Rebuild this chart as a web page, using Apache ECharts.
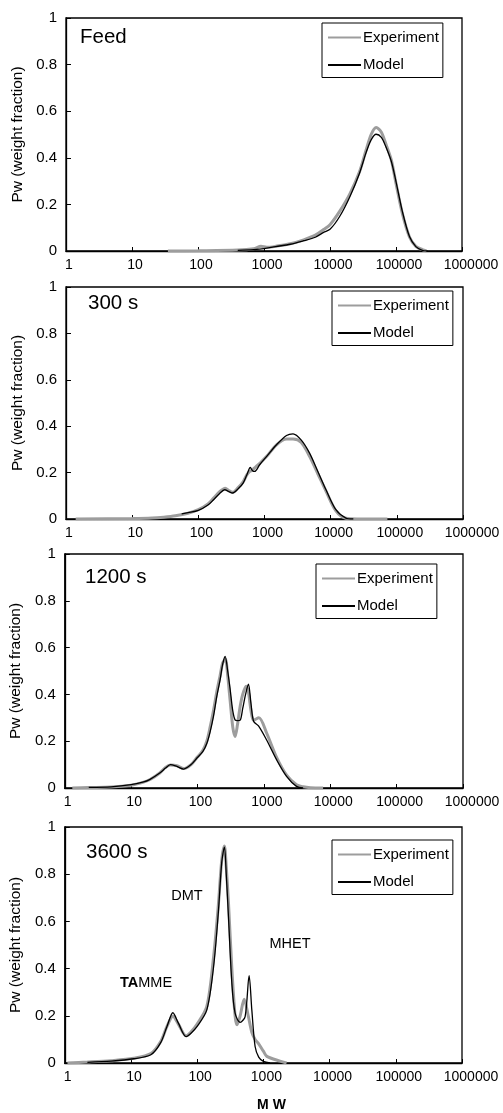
<!DOCTYPE html>
<html><head><meta charset="utf-8">
<script src="https://cdn.jsdelivr.net/npm/echarts@6/dist/echarts.min.js"></script>
<style>html,body{margin:0;padding:0;background:#fff}#c{width:503px;height:1113px}</style>
</head><body><div id="c"></div><script>
// ---- data ----
const xTickLabels = ['1', '10', '100', '1000', '10000', '100000', '1000000'];
const yTickLabels = ['0', '0.2', '0.4', '0.6', '0.8', '1'];
const panelTitles = ['Feed', '300 s', '1200 s', '3600 s'];
const seriesNames = ['Experiment', 'Model'];
const yAxisTitle = 'Pw (weight fraction)';
const xAxisTitle = 'M W';

const mwExpFeed = [35, 100, 400, 700, 900, 1100, 1500, 2500, 4000, 6000, 8000, 10000, 14000, 20000, 28000, 35000, 42000, 50000, 60000, 70000, 85000, 100000, 125000, 160000, 200000, 250000, 290000];
const expFeed = [0, 0.001, 0.004, 0.01, 0.02, 0.016, 0.02, 0.031, 0.048, 0.068, 0.092, 0.113, 0.17, 0.245, 0.34, 0.43, 0.5, 0.53, 0.51, 0.46, 0.39, 0.29, 0.16, 0.06, 0.02, 0.006, 0];
const mwModelFeed = [400, 700, 1000, 1500, 2500, 4000, 6000, 8000, 10000, 14000, 20000, 28000, 35000, 42000, 50000, 60000, 70000, 85000, 100000, 125000, 160000, 200000, 250000, 300000];
const modelFeed = [0.003, 0.006, 0.01, 0.019, 0.029, 0.044, 0.059, 0.08, 0.093, 0.148, 0.233, 0.334, 0.42, 0.477, 0.501, 0.488, 0.448, 0.384, 0.298, 0.169, 0.062, 0.019, 0.003, 0];

const mwExp300 = [1.4, 10, 20, 30, 45, 70, 100, 140, 170, 210, 255, 290, 330, 400, 475, 540, 600, 660, 740, 850, 1080, 1520, 2150, 2700, 3600, 4800, 6400, 8500, 12000, 17000, 25000, 72000];
const exp300 = [0, 0.002, 0.004, 0.008, 0.014, 0.025, 0.04, 0.065, 0.09, 0.118, 0.133, 0.122, 0.115, 0.135, 0.16, 0.19, 0.205, 0.212, 0.225, 0.24, 0.27, 0.32, 0.345, 0.345, 0.33, 0.27, 0.195, 0.12, 0.035, 0.003, 0, 0];
const mwModel300 = [56, 70, 100, 140, 170, 210, 250, 290, 330, 400, 475, 540, 610, 660, 710, 850, 1080, 1520, 2150, 2700, 3600, 4800, 6400, 8500, 12000, 17000, 22000];
const model300 = [0.022, 0.027, 0.037, 0.06, 0.083, 0.11, 0.126, 0.118, 0.112, 0.13, 0.155, 0.19, 0.222, 0.208, 0.205, 0.235, 0.27, 0.32, 0.36, 0.367, 0.34, 0.284, 0.205, 0.126, 0.04, 0.004, 0];

const mwExp1200 = [1.3, 2.3, 5, 10, 15, 19, 27, 33, 39, 49, 62, 80, 98, 120, 138, 155, 174, 195, 219, 240, 263, 285, 311, 340, 368, 400, 440, 480, 540, 585, 640, 700, 840, 1100, 1560, 2200, 3100, 3900, 5000, 7800];
const exp1200 = [0, 0.002, 0.004, 0.012, 0.024, 0.035, 0.064, 0.088, 0.098, 0.095, 0.083, 0.10, 0.13, 0.16, 0.20, 0.26, 0.33, 0.41, 0.48, 0.535, 0.55, 0.48, 0.37, 0.26, 0.22, 0.27, 0.35, 0.40, 0.435, 0.41, 0.33, 0.29, 0.30, 0.235, 0.13, 0.055, 0.014, 0.005, 0.001, 0];
const mwModel1200 = [2.3, 5, 10, 15, 19, 27, 33, 39, 49, 62, 80, 98, 120, 138, 155, 174, 195, 219, 240, 261, 285, 311, 340, 370, 400, 440, 480, 530, 585, 640, 700, 830, 1100, 1560, 2200, 3100, 3900];
const model1200 = [0.003, 0.005, 0.014, 0.025, 0.036, 0.064, 0.085, 0.10, 0.092, 0.081, 0.10, 0.128, 0.155, 0.19, 0.24, 0.306, 0.39, 0.462, 0.53, 0.562, 0.50, 0.42, 0.33, 0.29, 0.288, 0.29, 0.34, 0.40, 0.444, 0.36, 0.285, 0.265, 0.205, 0.12, 0.05, 0.007, 0];

const mwExp3600 = [1.1, 2.2, 5, 11, 20, 28, 35, 43, 52, 68, 80, 100, 140, 177, 209, 235, 258, 275, 297, 334, 374, 400, 446, 513, 594, 669, 750, 830, 1000, 1130, 1780, 2240];
const exp3600 = [0, 0.004, 0.01, 0.02, 0.04, 0.09, 0.155, 0.198, 0.165, 0.115, 0.13, 0.165, 0.24, 0.45, 0.67, 0.86, 0.92, 0.83, 0.68, 0.40, 0.20, 0.162, 0.2, 0.27, 0.197, 0.13, 0.1, 0.085, 0.05, 0.028, 0.008, 0];
const mwModel3600 = [2.2, 5, 11, 20, 28, 35, 43, 52, 68, 80, 100, 140, 177, 209, 235, 258, 275, 297, 334, 374, 446, 530, 609, 669, 750, 850, 1000, 1260];
const model3600 = [0.003, 0.008, 0.018, 0.035, 0.085, 0.155, 0.213, 0.169, 0.112, 0.125, 0.155, 0.225, 0.408, 0.64, 0.85, 0.915, 0.8, 0.62, 0.338, 0.211, 0.172, 0.197, 0.37, 0.225, 0.07, 0.025, 0.007, 0];

const peakLabels = ['DMT', 'MHET', '{b|TA}MME'];

// ---- layout ----
const FONT = '"Liberation Sans", Arial, Helvetica, sans-serif';
const grids = [
  {left: 66, top: 18, width: 396, height: 233},
  {left: 66, top: 287, width: 397, height: 232},
  {left: 64, top: 554, width: 399, height: 234},
  {left: 64, top: 827, width: 398, height: 236}
];
const legendPos = [[322, 23], [332, 291], [316, 564], [332, 840]];
const titlePos = [[80, 37], [88, 303], [85, 577], [86, 852]];
const panelData = [
  [[mwExpFeed, expFeed], [mwModelFeed, modelFeed]],
  [[mwExp300, exp300], [mwModel300, model300]],
  [[mwExp1200, exp1200], [mwModel1200, model1200]],
  [[mwExp3600, exp3600], [mwModel3600, model3600]]
];
const zip = (xs, ys) => xs.map((x, i) => [x, ys[i]]);
const lineStyles = [
  {color: '#9d9d9d', width: 3},
  {color: '#000000', width: 1.3}
];

const option = {
  animation: false,
  backgroundColor: '#fff',
  grid: grids.map(g => Object.assign({show: true, borderColor: '#000', borderWidth: 1.3, backgroundColor: 'transparent'}, g)),
  xAxis: grids.map((g, i) => ({
    type: 'log', logBase: 10, min: 1, max: 1000000, gridIndex: i,
    axisLine: {show: true, lineStyle: {color: '#000', width: 1.3}},
    axisTick: {show: true, inside: true, length: 4, lineStyle: {color: '#000', width: 1}},
    minorTick: {show: false},
    splitLine: {show: false},
    axisLabel: {
      color: '#000', fontSize: 14, fontFamily: FONT, margin: 7,
      formatter: (v, idx) => idx === xTickLabels.length - 1 ? '{r|' + xTickLabels[idx] + '}' : xTickLabels[idx],
      padding: [0, 0, 0, 6],
      rich: {r: {fontSize: 14, fontFamily: FONT, color: '#000', padding: [0, 0, 0, 12]}}
    }
  })),
  yAxis: grids.map((g, i) => ({
    type: 'value', min: 0, max: 1, interval: 0.2, gridIndex: i,
    name: yAxisTitle, nameLocation: 'middle', nameRotate: 90, nameGap: 39,
    nameTextStyle: {fontSize: 15.5, fontFamily: FONT, color: '#000'},
    axisLine: {show: true, lineStyle: {color: '#000', width: 1.3}},
    axisTick: {show: true, inside: true, length: 5, lineStyle: {color: '#000', width: 1}},
    splitLine: {show: false},
    axisLabel: {
      color: '#000', fontSize: 15, fontFamily: FONT, margin: 9,
      formatter: (v) => yTickLabels[Math.round(v / 0.2)]
    }
  })),
  legend: legendPos.map(p => ({
    data: seriesNames.map(n => ({name: n})), orient: 'vertical', left: p[0], top: p[1],
    itemWidth: 33, itemHeight: 14, itemGap: 12.5,
    padding: [7, 4, 5, 5],
    borderColor: '#000', borderWidth: 1, backgroundColor: '#fff',
    itemStyle: {opacity: 0, borderWidth: 0},
    textStyle: {fontSize: 15, fontFamily: FONT, color: '#000', padding: [0, 0, 0, -3]},
    selectedMode: false
  })),
  graphic: [
    ...panelTitles.map((t, i) => ({
      type: 'text', x: titlePos[i][0], y: titlePos[i][1],
      style: {text: t, font: '20.5px ' + FONT, fill: '#000', textVerticalAlign: 'middle'}
    })),
    {type: 'text', x: 187, y: 896, style: {text: peakLabels[0], font: '14.5px ' + FONT, fill: '#000', align: 'center', verticalAlign: 'middle'}},
    {type: 'text', x: 290, y: 944, style: {text: peakLabels[1], font: '14.5px ' + FONT, fill: '#000', align: 'center', verticalAlign: 'middle'}},
    {type: 'text', x: 120, y: 982.5, style: {text: peakLabels[2], fontSize: 14.5, fontFamily: FONT, fill: '#000', verticalAlign: 'middle',
      rich: {b: {fontSize: 14.5, fontFamily: FONT, fontWeight: 'bold', fill: '#000'}}}},
    {type: 'text', x: 271.5, y: 1105, style: {text: xAxisTitle, font: 'bold 14px ' + FONT, fill: '#000', align: 'center', verticalAlign: 'middle'}}
  ],
  series: []
};

panelData.forEach((pd, i) => {
  pd.forEach((sd, k) => {
    option.series.push({
      type: 'line', name: seriesNames[k], xAxisIndex: i, yAxisIndex: i,
      data: zip(sd[0], sd[1]),
      symbol: 'none', showSymbol: false, smooth: 0.3,
      lineStyle: lineStyles[k], itemStyle: {color: lineStyles[k].color},
      z: 2 + k
    });
  });
});

const chart = echarts.init(document.getElementById('c'), null, {renderer: 'canvas'});
chart.setOption(option);
</script></body></html>
